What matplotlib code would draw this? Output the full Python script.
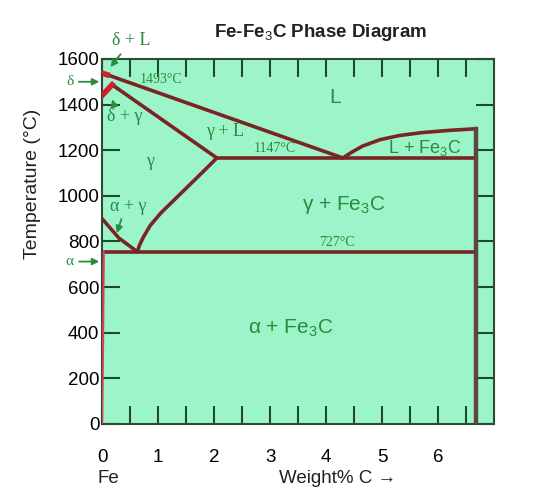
import matplotlib
matplotlib.use('Agg')
import matplotlib.pyplot as plt

plt.rcParams['font.family'] = ['Liberation Sans', 'DejaVu Sans']
plt.rcParams['mathtext.fontset'] = 'custom'
plt.rcParams['mathtext.rm'] = 'Liberation Sans'

##############################################################################
# dados (wt% C, temperatura em C)
liquidus_x = [0.09, 4.30]
liquidus_t = [1531, 1166]
liq_fe3c_x = [4.30, 4.45, 4.65, 4.96, 5.30, 5.70, 6.20, 6.67]
liq_fe3c_t = [1166, 1190, 1218, 1246, 1264, 1277, 1287, 1294]
solidus_x = [0.18, 2.05]
solidus_t = [1487, 1166]
acm_x = [2.05, 1.80, 1.55, 1.30, 1.05, 0.86, 0.74, 0.67, 0.63]
acm_t = [1166, 1105, 1045, 985, 925, 870, 820, 785, 755]
a3_x = [0.0, 0.30, 0.63]
a3_t = [900, 815, 755]
eutetico_x = [2.05, 6.67]
eutetico_t = [1166, 1166]
eutetoide_x = [0.03, 6.67]
eutetoide_t = [755, 755]
fe3c_x = [6.67, 6.67]
fe3c_t = [0, 1294]
solvus_x = [0.03, 0.015, 0.0]
solvus_t = [755, 300, 0]
delta_x = [0.0, 0.09, 0.0, 0.18]
delta_t = [1538, 1531, 1440, 1487]

x_ticks = [0, 1, 2, 3, 4, 5, 6]
y_ticks = [0, 200, 400, 600, 800, 1000, 1200, 1400, 1600]

verde = '#2a8a40'
linha = '#7a2424'

##############################################################################
fig = plt.figure(figsize=(5.4, 4.98), dpi=100)
ax = fig.add_axes([0.189, 0.1486, 0.726, 0.733])
ax.set_facecolor('#9bf5c8')
ax.set_xlim(0, 7)
ax.set_ylim(0, 1600)

for s in ax.spines.values():
    s.set_color('#2d4a35')
    s.set_linewidth(1.5)

ax.set_xticks(x_ticks, [str(v) for v in x_ticks])
ax.set_xticks([v + 0.5 for v in x_ticks], minor=True)
ax.set_yticks(y_ticks, [str(v) for v in y_ticks])
ax.tick_params(which='both', direction='in', length=13, width=1.5, color='#1f4a2a',
               top=True, right=True, labelsize=13.5)
ax.tick_params(axis='y', pad=2)
ax.tick_params(axis='x', pad=18)

# linhas de fase
kw = dict(color=linha, lw=2.6, solid_capstyle='round', solid_joinstyle='round', zorder=3)
ax.plot(liquidus_x, liquidus_t, **kw)
ax.plot(liq_fe3c_x, liq_fe3c_t, **kw)
ax.plot(solidus_x, solidus_t, **kw)
ax.plot(acm_x, acm_t, **kw)
ax.plot(a3_x, a3_t, **kw)
ax.plot(eutetico_x, eutetico_t, **kw)
ax.plot(eutetoide_x, eutetoide_t, **kw)
ax.plot(fe3c_x, fe3c_t, color='#5e4540', lw=3.2, zorder=3)
ax.plot(solvus_x, solvus_t, color='#d8405a', lw=1.6, zorder=3)
ax.plot(delta_x[:2], delta_t[:2], color='#d0202a', lw=4, zorder=4)
ax.plot(delta_x[2:], delta_t[2:], color='#d0202a', lw=4, zorder=4)

# rotulos das regioes
serif = ['Liberation Serif', 'DejaVu Serif']
ax.text(4.16, 1430, 'L', color=verde, fontsize=15, ha='center', va='center')
ax.text(2.2, 1281, 'γ + L', color=verde, fontsize=13, ha='center', va='center', family=serif)
ax.text(0.86, 1149, 'γ', color=verde, fontsize=13, ha='center', va='center', family=serif)
ax.text(0.41, 1346, 'δ + γ', color=verde, fontsize=13, ha='center', va='center', family=serif)
ax.text(0.46, 955, 'α + γ', color=verde, fontsize=13, ha='center', va='center', family=serif)
ax.text(1.05, 1509, '1493°C', color=verde, fontsize=10, ha='center', va='center', family=serif)
ax.text(3.09, 1206, '1147°C', color=verde, fontsize=10, ha='center', va='center', family=serif)
ax.text(4.2, 796, '727°C', color=verde, fontsize=10, ha='center', va='center', family=serif)
ax.text(5.77, 1210, 'L + Fe$_3$C', color=verde, fontsize=13, ha='center', va='center')
ax.text(4.32, 960, 'γ + Fe$_3$C', color=verde, fontsize=15, ha='center', va='center')
ax.text(3.36, 421, 'α + Fe$_3$C', color=verde, fontsize=15, ha='center', va='center')

# setas
seta = dict(arrowstyle='-|>', color=verde, lw=1.3, mutation_scale=10)
ax.annotate('δ + L', xy=(0.12, 1555), xytext=(0.52, 1680), color=verde, fontsize=13,
            ha='center', va='center', family=serif, arrowprops=seta, annotation_clip=False)
ax.annotate('', xy=(0.17, 1435), xytext=(0.22, 1390), arrowprops=seta)
ax.annotate('', xy=(0.25, 825), xytext=(0.36, 910), arrowprops=seta)
ax.annotate('δ', xy=(0.0, 1500), xytext=(-0.58, 1500), color=verde, fontsize=11,
            ha='center', va='center', family=serif, arrowprops=seta, annotation_clip=False)
ax.annotate('α', xy=(0.0, 712), xytext=(-0.58, 712), color=verde, fontsize=11,
            ha='center', va='center', family=serif, arrowprops=seta, annotation_clip=False)

# titulos
fig.text(0.594, 0.934, 'Fe-Fe$_3$C Phase Diagram', fontsize=13.5, fontweight='bold',
         ha='center', va='center', color='#222222')
fig.text(0.06, 0.63, 'Temperature (°C)', fontsize=14, rotation=90,
         ha='center', va='center', color='#222222')
fig.text(0.2, 0.04, 'Fe', fontsize=13.5, ha='center', va='center', color='#222222')
fig.text(0.626, 0.04, 'Weight% C →', fontsize=13.5, ha='center', va='center', color='#222222')

fig.savefig('out.png', dpi=100)
